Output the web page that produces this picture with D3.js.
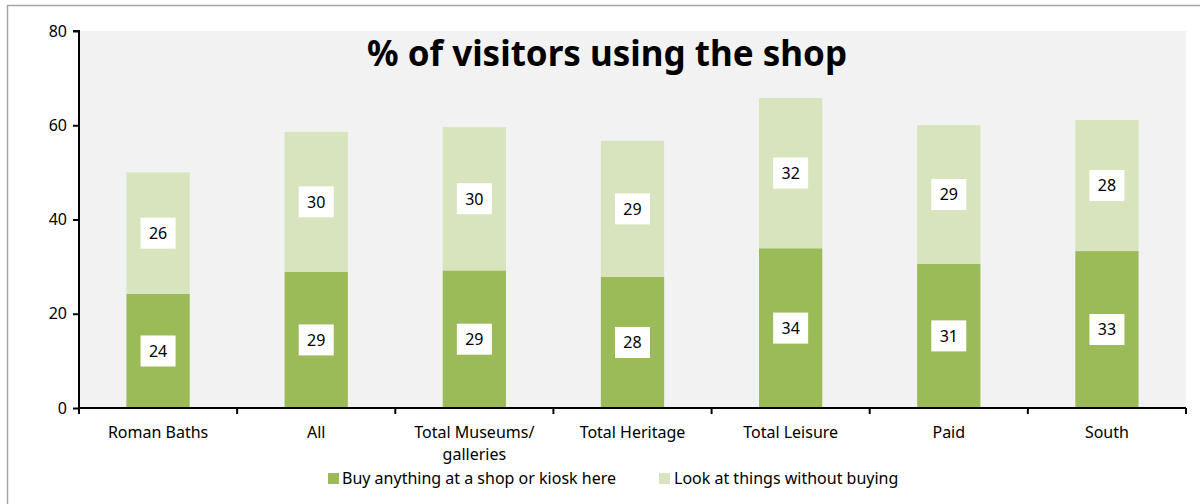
<!DOCTYPE html>
<html><head><meta charset="utf-8">
<script src="https://cdn.jsdelivr.net/npm/d3@7/dist/d3.min.js"></script>
<style>body{margin:0;background:#fff}svg{display:block}text{font-family:"Noto Sans",sans-serif}</style>
</head><body>
<svg id="c" width="1200" height="504"></svg>
<script>
const categories = ["Roman Baths","All","Total Museums/ galleries","Total Heritage","Total Leisure","Paid","South"];
const buyValues = [24.2, 28.9, 29.2, 27.8, 33.9, 30.6, 33.3];
const lookValues = [25.8, 29.7, 30.4, 28.9, 31.9, 29.4, 27.8];
const seriesNames = ["Buy anything at a shop or kiosk here","Look at things without buying"];
const yTicks = [0,20,40,60,80];
const colors = ["#9bbb59","#d7e4bd"];
const FF = '"Noto Sans",sans-serif';

const svg = d3.select("#c");
svg.append("rect").attr("x",7.5).attr("y",5.5).attr("width",1300).attr("height",600)
  .attr("fill","#fff").attr("stroke","#a6a6a6").attr("stroke-width",1.5);

const L=79, R=1186, T=31, B=408;
const x = d3.scaleBand().domain(categories).range([L,R]).paddingInner(0.6).paddingOuter(0.3);
const xb = d3.scaleBand().domain(categories).range([L,R]);
const y = d3.scaleLinear().domain([0,80]).range([B,T]);

svg.append("rect").attr("x",L).attr("y",T).attr("width",R-L).attr("height",B-T).attr("fill","#f2f2f2");

const data = categories.map((c,i)=>({cat:c, buy:buyValues[i], look:lookValues[i]}));
const stack = d3.stack().keys(["buy","look"])(data);

const g = svg.append("g");
stack.forEach((s,si)=>{
  g.selectAll(null).data(s).join("rect")
    .attr("x",d=>x(d.data.cat)).attr("width",x.bandwidth())
    .attr("y",d=>y(d[1])).attr("height",d=>y(d[0])-y(d[1]))
    .attr("fill",colors[si]);
});
const fmt = d3.format(".0f");
stack.forEach((s,si)=>{
  s.forEach(d=>{
    const cx = x(d.data.cat)+x.bandwidth()/2, cy=(y(d[0])+y(d[1]))/2;
    g.append("rect").attr("x",cx-17.5).attr("y",cy-15.5).attr("width",35).attr("height",31).attr("fill","#fff");
    g.append("text").attr("x",cx).attr("y",cy).attr("dy","0.36em").attr("text-anchor","middle")
      .attr("font-size",16).attr("fill","#000").text(fmt(d[1]-d[0]));
  });
});

const ya = svg.append("g").attr("transform",`translate(${L},0)`)
  .call(d3.axisLeft(y).tickValues(yTicks).tickSize(6).tickPadding(6));
ya.select(".domain").attr("stroke","#000").attr("stroke-width",2).attr("d",`M-6,${T}H0V${B}`);
ya.selectAll(".tick line").attr("stroke","#000").attr("stroke-width",2);
ya.selectAll(".tick text").attr("font-size",16).attr("fill","#000").attr("font-family",FF);

svg.append("line").attr("x1",L).attr("x2",R).attr("y1",B).attr("y2",B).attr("stroke","#000").attr("stroke-width",2);
const bounds = categories.map(c=>xb(c)).concat([R]);
svg.selectAll(null).data(bounds).join("line")
  .attr("x1",d=>d).attr("x2",d=>d).attr("y1",B).attr("y2",B+6).attr("stroke","#000").attr("stroke-width",2);
categories.forEach(c=>{
  const cx = xb(c)+xb.bandwidth()/2;
  const parts = c.includes("/ ") ? [c.split("/ ")[0]+"/", c.split("/ ")[1]] : [c];
  const t = svg.append("text").attr("x",cx).attr("y",438).attr("text-anchor","middle").attr("font-size",16).attr("fill","#000");
  parts.forEach((p,i)=>t.append("tspan").attr("x",cx).attr("dy",i?22:0).text(p));
});

svg.append("text").attr("x",607).attr("y",66).attr("text-anchor","middle")
  .attr("font-size",35).attr("font-weight","bold").attr("fill","#000").text("% of visitors using the shop");

const lg = [{x:328,tx:342},{x:659,tx:674}];
seriesNames.forEach((n,i)=>{
  svg.append("rect").attr("x",lg[i].x).attr("y",473).attr("width",11).attr("height",11).attr("fill",colors[i]);
  svg.append("text").attr("x",lg[i].tx).attr("y",484).attr("font-size",16).attr("fill","#000").text(n);
});
</script>
</body></html>
